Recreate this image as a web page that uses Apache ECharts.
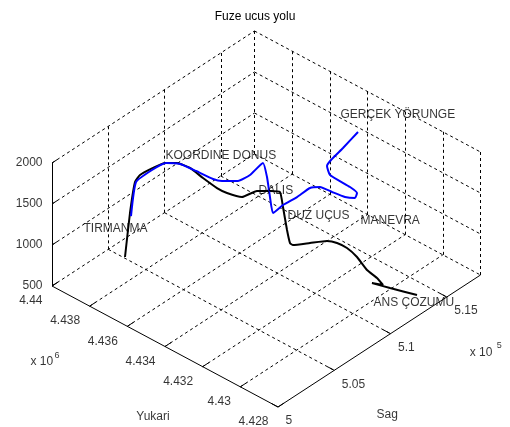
<!DOCTYPE html>
<html>
<head>
<meta charset="utf-8">
<script src="https://cdn.jsdelivr.net/npm/echarts@6/dist/echarts.min.js"></script>
<style>
  html, body { margin: 0; padding: 0; background: #fff; }
  #chart { width: 510px; height: 427px; }
</style>
</head>
<body>
<div id="chart"></div>
<script>
// Axis limits (metres)
const sagRange = [500000, 518000];
const yukariRange = [4428000, 4440000];
const altRange = [500, 2000];

// Tick values
const sagTicks = [500000, 505000, 510000, 515000];
const yukariTicks = [4440000, 4438000, 4436000, 4434000, 4432000, 4430000, 4428000];
const altTicks = [500, 1000, 1500, 2000];

// Flight path (black)
const pathSag = [503256, 503373, 503440, 503857, 504475, 505024, 505438, 505652, 505544, 505476,
  505569, 505931, 507042, 507623, 508008, 508114, 508395, 508462, 508552, 509383,
  510215, 510534, 510679, 510714, 510755, 511171, 511381, 511210, 511677, 512730];
const pathYukari = [4438069, 4437874, 4437648, 4437631, 4437311, 4437001, 4436611, 4436048, 4435294, 4434510,
  4434035, 4433455, 4433322, 4432979, 4432678, 4432582, 4432536, 4432417, 4432312, 4431906,
  4431500, 4431160, 4430716, 4430205, 4429699, 4429416, 4429224, 4429705, 4429028, 4428223];
const pathAlt = [800, 1350, 1750, 1800, 1870, 1920, 1930, 1920, 1900, 1880,
  1870, 1860, 1850, 1840, 1830, 1650, 1350, 1200, 1180, 1180,
  1180, 1170, 1150, 1100, 1000, 900, 820, 800, 780, 700];

// Real trajectory (blue)
const trueSag = [503308, 503420, 504345, 505063, 505483, 505668, 505870, 506080, 506721, 507346,
  508458, 508678, 508768, 508919, 509612, 510465, 511419, 511896, 512123, 512269,
  512595, 512929, 512852, 512582, 512641, 512944, 513709, 514895];
const trueYukari = [4437782, 4437582, 4437286, 4436972, 4436479, 4435739, 4434958, 4434606, 4434139, 4433874,
  4433849, 4433768, 4433663, 4433593, 4433476, 4433242, 4433123, 4432876, 4432374, 4431771,
  4431435, 4431529, 4431853, 4432754, 4432949, 4432918, 4432738, 4432649];
const trueAlt = [1330, 1760, 1860, 1920, 1930, 1920, 1900, 1900, 1900, 1950,
  2000, 1820, 1580, 1380, 1430, 1480, 1520, 1520, 1500, 1500,
  1500, 1520, 1560, 1620, 1700, 1750, 1850, 1950];

// Phase annotations
const noteText = ['GERÇEK YÖRUNGE', 'KOORDINE DONUS', 'DALIS', 'DUZ UÇUS', 'MANEVRA', 'TIRMANMA', 'ANS ÇOZUMU'];
const noteSag = [515138, 505054, 507081, 510363, 512915, 502441, 510366];
const noteYukari = [4433750, 4437019, 4433292, 4433713, 4431361, 4439812, 4429148];
const noteAlt = [2000, 2000, 1850, 1200, 1200, 1000, 700];

// Orthographic 3-D view: screen position of the box corner and axis vectors (px)
const view = { x0: 52, y0: 286, sagDx: 202.5, sagDy: -132, yukDx: 226, yukDy: 121, altDy: -123 };
function project(s, y, z) {
  const u = (s - sagRange[0]) / (sagRange[1] - sagRange[0]);
  const v = (yukariRange[1] - y) / (yukariRange[1] - yukariRange[0]);
  const w = (z - altRange[0]) / (altRange[1] - altRange[0]);
  return [view.x0 + u * view.sagDx + v * view.yukDx,
          view.y0 + u * view.sagDy + v * view.yukDy + w * view.altDy];
}

const [s0, s1] = sagRange, [y0, y1] = yukariRange, [z0, z1] = altRange;

// Dashed grid on the two back walls and the floor
const gridSegs = [];
const gseg = (a, b) => gridSegs.push({ coords: [project(...a), project(...b)] });
altTicks.forEach(z => gseg([s0, y1, z], [s1, y1, z]));
sagTicks.filter(s => s > s0).concat([s1]).forEach(s => gseg([s, y1, z0], [s, y1, z1]));
altTicks.forEach(z => gseg([s1, y1, z], [s1, y0, z]));
yukariTicks.filter(y => y < y1).forEach(y => gseg([s1, y, z0], [s1, y, z1]));
sagTicks.filter(s => s > s0).forEach(s => gseg([s, y1, z0], [s, y0, z0]));
yukariTicks.filter(y => y < y1 && y > y0).forEach(y => gseg([s0, y, z0], [s1, y, z0]));

// Solid axis lines and tick marks
const axisSegs = [];
const aseg = (a, b) => axisSegs.push({ coords: [project(...a), project(...b)] });
aseg([s0, y1, z0], [s0, y1, z1]);
aseg([s0, y1, z0], [s0, y0, z0]);
aseg([s0, y0, z0], [s1, y0, z0]);
altTicks.forEach(z => aseg([s0, y1, z], [s0 + 0.025 * (s1 - s0), y1, z]));
yukariTicks.forEach(y => aseg([s0, y, z0], [s0 + 0.03 * (s1 - s0), y, z0]));
sagTicks.forEach(s => aseg([s, y0, z0], [s, y0 + 0.03 * (y1 - y0), z0]));

const pathPts = pathSag.map((s, i) => project(s, pathYukari[i], pathAlt[i]));
const truePts = trueSag.map((s, i) => project(s, trueYukari[i], trueAlt[i]));

const font = { fontFamily: 'Liberation Sans, Arial, sans-serif', fontSize: 12, color: '#000' };
function textSeries(items, label) {
  return {
    type: 'scatter', symbolSize: 1, silent: true, z: 6,
    itemStyle: { color: 'rgba(0,0,0,0)' },
    label: Object.assign({ show: true, formatter: p => p.name }, font, label),
    data: items
  };
}

const altLabels = altTicks.map(z => ({ name: String(z), value: project(s0, y1, z) }));
const yukLabels = yukariTicks.map(y => ({ name: String(+(y / 1e6).toFixed(3)), value: project(s0, y, z0) }));
const sagLabels = sagTicks.map(s => ({ name: String(+(s / 1e5).toFixed(2)), value: project(s, y0, z0) }));
const noteLabels = noteText.map((t, i) => ({ name: t, value: project(noteSag[i], noteYukari[i], noteAlt[i]) }));

const yukMid = project(s0, (y0 + y1) / 2, z0);
const sagMid = project((s0 + s1) / 2, y0, z0);

const chart = echarts.init(document.getElementById('chart'), null, { renderer: 'canvas' });
chart.setOption({
  animation: false,
  backgroundColor: '#fff',
  title: {
    text: 'Fuze ucus yolu', left: 'center', top: 11, padding: 0,
    textStyle: { fontFamily: font.fontFamily, fontSize: 12, fontWeight: 'normal', color: '#000' }
  },
  grid: { left: 0, right: 0, top: 0, bottom: 0 },
  xAxis: { type: 'value', min: 0, max: 510, show: false },
  yAxis: { type: 'value', min: 0, max: 427, inverse: true, show: false },
  series: [
    {
      type: 'lines', coordinateSystem: 'cartesian2d', silent: true, z: 1,
      lineStyle: { color: '#000', width: 1, type: [3, 3], opacity: 1 },
      data: gridSegs
    },
    {
      type: 'lines', coordinateSystem: 'cartesian2d', silent: true, z: 2,
      lineStyle: { color: '#000', width: 1, type: 'solid', opacity: 1 },
      data: axisSegs
    },
    {
      type: 'line', data: pathPts, symbol: 'none', z: 3, smooth: 0.15,
      lineStyle: { color: '#000', width: 2 }
    },
    {
      type: 'line', data: truePts, symbol: 'none', z: 4, smooth: 0.15,
      lineStyle: { color: '#0000ff', width: 2 }
    },
    textSeries(altLabels, { position: 'left', distance: 9 }),
    textSeries(yukLabels, { position: 'left', distance: 9, offset: [0, 15] }),
    textSeries(sagLabels, { position: 'right', distance: 7, offset: [0, 14] }),
    textSeries(noteLabels, { position: 'right', distance: 0 }),
    textSeries([{ name: 'x 10', value: yukMid }], { position: 'right', distance: 0, offset: [-135, 15] }),
    textSeries([{ name: '6', value: yukMid }], { position: 'right', distance: 0, offset: [-111, 9], fontSize: 9 }),
    textSeries([{ name: 'Yukari', value: yukMid }], { position: 'inside', offset: [-12, 70] }),
    textSeries([{ name: 'x 10', value: sagMid }], { position: 'right', distance: 0, offset: [90, 12] }),
    textSeries([{ name: '5', value: sagMid }], { position: 'right', distance: 0, offset: [117, 5], fontSize: 9 }),
    textSeries([{ name: 'Sag', value: sagMid }], { position: 'inside', offset: [8, 74] })
  ]
});
</script>
</body>
</html>
